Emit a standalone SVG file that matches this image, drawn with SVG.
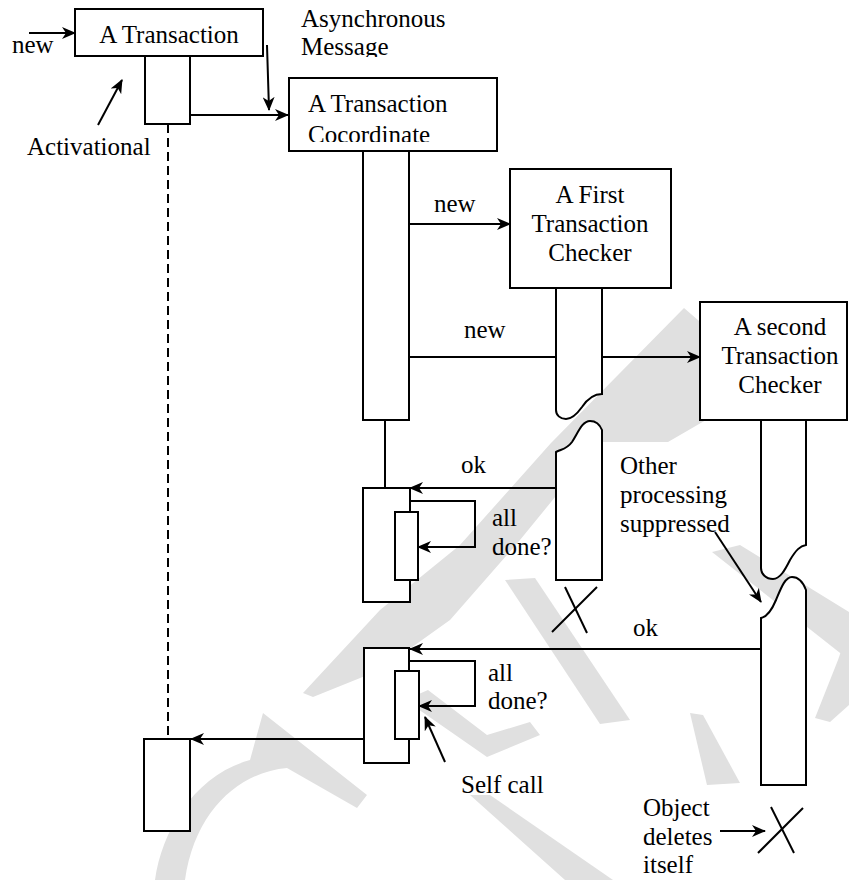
<svg xmlns="http://www.w3.org/2000/svg" width="849" height="880" viewBox="0 0 849 880" font-family="Liberation Serif" font-size="25">
<style>
.t{font-family:'Liberation Serif',serif;font-size:25px;fill:#000}
.box{fill:#fff;stroke:#000;stroke-width:2}
.ln{fill:none;stroke:#000;stroke-width:2}
.ar{fill:none;stroke:#000;stroke-width:2;marker-end:url(#ah)}
.wm{fill:#e0e0e0;stroke:none}
</style>
<defs>
<marker id="ah" markerUnits="userSpaceOnUse" markerWidth="14" markerHeight="12" viewBox="0 0 14 12" refX="13" refY="6" orient="auto">
<path d="M0,0 L14,6 L0,12 L4,6 Z" fill="#000"/>
</marker>
<clipPath id="c1"><rect x="290" y="0" width="200" height="57"/></clipPath>
<clipPath id="c2"><rect x="290" y="79" width="206" height="63"/></clipPath>
</defs>
<rect width="849" height="880" fill="#fff"/>
<g id="watermark">
<path class="wm" d="M684,308 L706,327 L706,420 L668,442 L600,442 L520,540 L450,620 L380,670 L313,697 L303,693 L380,610 L460,545 L551,443 Z"/>
<path class="wm" d="M155,880 C162,830 195,775 250,760 L263,713 L367,795 L357,808 L287,768 C240,772 195,810 185,880 Z"/>
<polygon class="wm" points="505,580 535,578 630,720 600,724"/>
<polygon class="wm" points="405,700 428,690 487,735 530,722 540,735 487,757"/>
<polygon class="wm" points="470,795 490,795 613,880 565,880"/>
<polygon class="wm" points="690,713 703,715 740,783 707,785"/>
<polygon class="wm" points="712,552 740,545 849,612 849,660"/>
<polygon class="wm" points="849,628 849,705 830,722 815,718 838,660"/>
</g>
<g id="connectors">
<line class="ar" x1="29" y1="33" x2="75" y2="33"/>
<line class="ln" x1="168" y1="124" x2="168" y2="739" stroke-dasharray="9,5"/>
<line class="ar" x1="190" y1="115" x2="288" y2="115"/>
<line class="ar" x1="267" y1="45" x2="269" y2="110"/>
<line class="ar" x1="98" y1="125" x2="122" y2="80"/>
<line class="ln" x1="385" y1="420" x2="385" y2="488"/>
<line class="ar" x1="409" y1="224" x2="510" y2="224"/>
<line class="ar" x1="409" y1="357" x2="700" y2="357"/>
<line class="ar" x1="556" y1="488" x2="410" y2="488"/>
<line class="ar" x1="761" y1="649" x2="410" y2="649"/>
<line class="ar" x1="374" y1="739" x2="191" y2="739"/>
<line class="ar" x1="715" y1="532" x2="761" y2="602"/>
<line class="ar" x1="445" y1="762" x2="425" y2="717"/>
<line class="ar" x1="720" y1="831" x2="765" y2="831"/>
<line class="ln" x1="552" y1="632" x2="597" y2="587"/>
<line class="ln" x1="565" y1="587" x2="587" y2="633"/>
<line class="ln" x1="758" y1="853" x2="803" y2="808"/>
<line class="ln" x1="771" y1="807" x2="794" y2="853"/>
</g>
<g id="a-transaction">
<rect class="box" x="75" y="9" width="188" height="47"/>
<text class="t" font-family="Liberation Serif" x="169" y="43" text-anchor="middle">A Transaction</text>
<rect class="box" x="145" y="56" width="45" height="68"/>
<rect class="box" x="144" y="739" width="46" height="92"/>
</g>
<g id="coordinate">
<rect class="box" x="289" y="78" width="208" height="73"/>
<g clip-path="url(#c2)" font-family="Liberation Serif">
<text class="t" x="308" y="112">A Transaction</text>
<text class="t" x="308" y="143">Cocordinate</text>
</g>
<rect class="box" x="363" y="151" width="46" height="269"/>
<rect class="box" x="363" y="488" width="47" height="114"/>
<rect class="box" x="395" y="512" width="23" height="68"/>
<polyline class="ar" points="410,501 475,501 475,547 418,547"/>
<rect class="box" x="364" y="648" width="45" height="115"/>
<rect class="box" x="395" y="671" width="24" height="68"/>
<polyline class="ar" points="409,661 475,661 475,706 419,706"/>
</g>
<g id="first-checker">
<rect class="box" x="510" y="169" width="161" height="119"/>
<g font-family="Liberation Serif" text-anchor="middle">
<text class="t" x="590" y="203">A First</text>
<text class="t" x="590" y="232">Transaction</text>
<text class="t" x="590" y="261">Checker</text>
</g>
<path class="box" d="M556,288 L602,288 L602,394 C594,394 588,398 582,407 C577,414 572,419 566,419 C560,419 556,415 556,410 Z"/>
<path class="box" d="M556,580 L556,452 C562,449 567,449 572,442 C578,433 582,421 590,421 C596,421 600,425 602,430 L602,580 Z"/>
</g>
<g id="second-checker">
<rect class="box" x="700" y="302" width="147" height="118"/>
<g font-family="Liberation Serif" text-anchor="middle">
<text class="t" x="780" y="335">A second</text>
<text class="t" x="780" y="364">Transaction</text>
<text class="t" x="780" y="393">Checker</text>
</g>
<path class="box" d="M761,420 L806,420 L806,545 C800,546 796,550 790,560 C785,570 780,579 773,579 C766,579 761,574 761,568 Z"/>
<path class="box" d="M761,785 L761,618 C766,617 771,612 776,600 C781,588 785,577 792,577 C799,577 803,582 806,590 L806,785 Z"/>
</g>
<g id="labels" font-family="Liberation Serif">
<text class="t" x="12" y="53">new</text>
<g clip-path="url(#c1)">
<text class="t" x="301" y="27">Asynchronous</text>
<text class="t" x="301" y="55">Message</text>
</g>
<text class="t" x="27" y="155">Activational</text>
<text class="t" x="434" y="212">new</text>
<text class="t" x="464" y="338">new</text>
<text class="t" x="461" y="473">ok</text>
<text class="t" x="492" y="526">all</text>
<text class="t" x="492" y="555">done?</text>
<text class="t" x="620" y="474">Other</text>
<text class="t" x="620" y="503">processing</text>
<text class="t" x="620" y="532">suppressed</text>
<text class="t" x="633" y="636">ok</text>
<text class="t" x="488" y="681">all</text>
<text class="t" x="488" y="709">done?</text>
<text class="t" x="461" y="793">Self call</text>
<text class="t" x="643" y="816">Object</text>
<text class="t" x="643" y="845">deletes</text>
<text class="t" x="643" y="873">itself</text>
</g>
</svg>
